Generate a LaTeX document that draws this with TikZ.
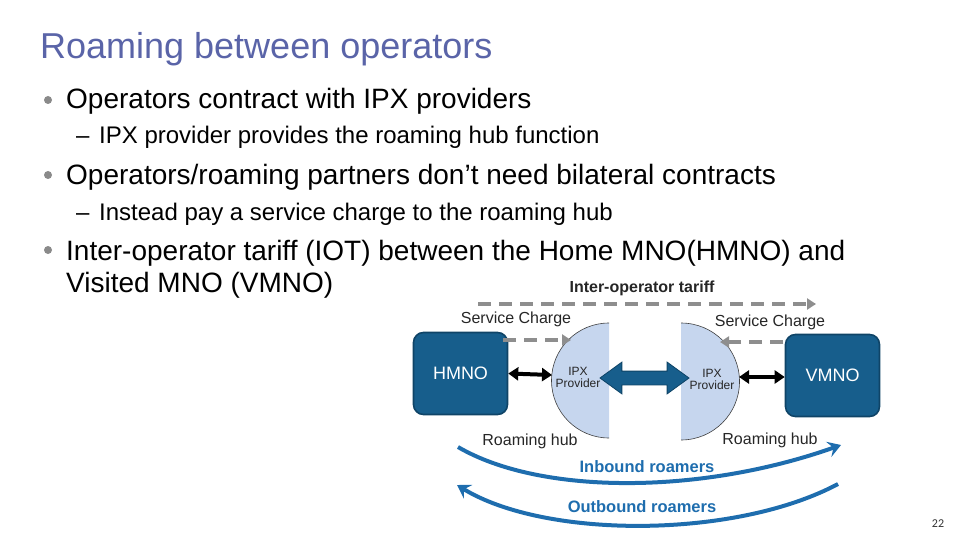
\documentclass[tikz,border=0pt]{standalone}
\usepackage{fontspec}
\setmainfont{Liberation Sans}
\newfontfamily\numfont{Carlito}
\usetikzlibrary{arrows.meta,shapes.arrows}
\definecolor{titleblue}{HTML}{5A64A8}
\definecolor{boxblue}{HTML}{175E8C}
\definecolor{boxedge}{HTML}{0F4467}
\definecolor{diskfill}{HTML}{C6D6EE}
\definecolor{roamblue}{HTML}{1E6DAE}
\definecolor{dashgray}{HTML}{8E8E8E}
\definecolor{dotgray}{HTML}{8A8A8A}
\tikzset{
  fs/.style={font=\fontsize{#1}{#1}\selectfont},
  bodytext/.style={anchor=base west, inner sep=0, text=black},
  opbox/.style={draw=boxedge, line width=1.6pt, fill=boxblue, rounded corners=10pt,
    minimum width=94pt, minimum height=82pt, text=white, fs=18, inner sep=0},
  disk/.style={fill=diskfill},
  diskedge/.style={draw=black!75, line width=0.6pt},
  ipxtext/.style={align=center, fs=12, inner sep=0, text=black!85},
  lbl/.style={fs=16, inner sep=0, text=black!85},
  linkarrow/.style={line width=4pt, {Triangle[width=13pt,length=10pt]}-{Triangle[width=13pt,length=10pt]}},
  chargearrow/.style={draw=dashgray, line width=4pt, dash pattern=on 13pt off 8pt, -{Triangle[width=11pt,length=9pt]}},
  roamarrow/.style={draw=roamblue, line width=4pt, -{Stealth[width=16pt,length=13pt,inset=5pt]}},
  roamtext/.style={fs=16.5, font=\bfseries\fontsize{16.5}{16.5}\selectfont, text=roamblue, inner sep=0},
}
\begin{document}
\begin{tikzpicture}[x=1pt,y=-1pt]
\useasboundingbox (0,0) rectangle (960,540);
% Title and bullets
\node[bodytext, text=titleblue, fs=36] (title) at (40,59) {Roaming between operators};
\fill[dotgray] (48,100) circle (4);
\fill[dotgray] (48,175) circle (4);
\fill[dotgray] (48,250) circle (4);
\node[bodytext, fs=28] (b1) at (66,109) {Operators contract with IPX providers};
\node[bodytext, fs=24] (s1d) at (76,144) {--};
\node[bodytext, fs=24] (s1) at (99,144) {IPX provider provides the roaming hub function};
\node[bodytext, fs=28] (b2) at (66,184) {Operators/roaming partners don’t need bilateral contracts};
\node[bodytext, fs=24] (s2d) at (76,220) {--};
\node[bodytext, fs=24] (s2) at (99,220) {Instead pay a service charge to the roaming hub};
\node[bodytext, fs=28] (b3a) at (66,260) {Inter-operator tariff (IOT) between the Home MNO(HMNO) and};
\node[bodytext, fs=28] (b3b) at (66,292) {Visited MNO (VMNO)};
% Half disks
\fill[disk] (609,323) arc[start angle=270, end angle=90, radius=57.5] -- cycle;
\draw[diskedge] (609,323) arc[start angle=270, end angle=90, radius=57.5];
\fill[disk] (681,323) arc[start angle=270, end angle=450, radius=58.5] -- cycle;
\draw[diskedge] (681,323) arc[start angle=270, end angle=450, radius=58.5];
\coordinate (ipxLw) at (552,375);
\coordinate (ipxRe) at (739,377);
\node[ipxtext] (ipxL) at (578,377) {IPX\\Provider};
\node[ipxtext] (ipxR) at (712,379) {IPX\\Provider};
% Operator boxes
\node[opbox] (hmno) at (460.5,373.5) {HMNO};
\node[opbox] (vmno) at (832.5,375.5) {VMNO};
% Links
\draw[linkarrow] (hmno.east) -- (ipxLw);
\draw[linkarrow] (ipxRe) -- (vmno.west |- ipxRe);
\node[double arrow, draw=boxedge, fill=boxblue, line width=0.8pt,
  minimum height=89pt, minimum width=31pt, text height=0pt, text depth=0pt,
  inner xsep=0pt, inner ysep=6.5pt, double arrow head extend=9pt,
  double arrow tip angle=72] (ipxlink) at (644.5,378) {};
% Charges
\node[lbl] (sc1) at (516,319) {Service Charge};
\node[lbl] (sc2) at (770,322) {Service Charge};
\node[fs=16, font=\bfseries\fontsize{16}{16}\selectfont, inner sep=0, text=black!85] (iot) at (642,288) {Inter-operator tariff};
\coordinate (iotA) at (478,304);
\coordinate (iotB) at (816,304);
\draw[chargearrow] (iotA) -- (iotB);
\coordinate (scLa) at (503,340);
\coordinate (scLb) at (571,340);
\draw[chargearrow] (scLa) -- (scLb);
\coordinate (scRa) at (783,342);
\coordinate (scRb) at (720,342);
\draw[chargearrow] (scRa) -- (scRb);
% Roaming hubs
\node[lbl] (rh1) at (530,441) {Roaming hub};
\node[lbl] (rh2) at (770,440) {Roaming hub};
% Roamers
\coordinate (inA) at (458,447);
\coordinate (inB) at (841,445);
\draw[roamarrow] (inA) .. controls (540,495) and (700,495) .. (inB);
\node[roamtext] (inb) at (647,467) {Inbound roamers};
\coordinate (outA) at (838,484);
\coordinate (outB) at (457,485);
\draw[roamarrow] (outA) .. controls (735,539) and (545,539) .. (outB);
\node[roamtext] (outb) at (642,507) {Outbound roamers};
% Page number
\node[inner sep=0, font=\numfont\fontsize{12}{12}\selectfont, text=black!80] (pg) at (938,524) {22};
\end{tikzpicture}
\end{document}
